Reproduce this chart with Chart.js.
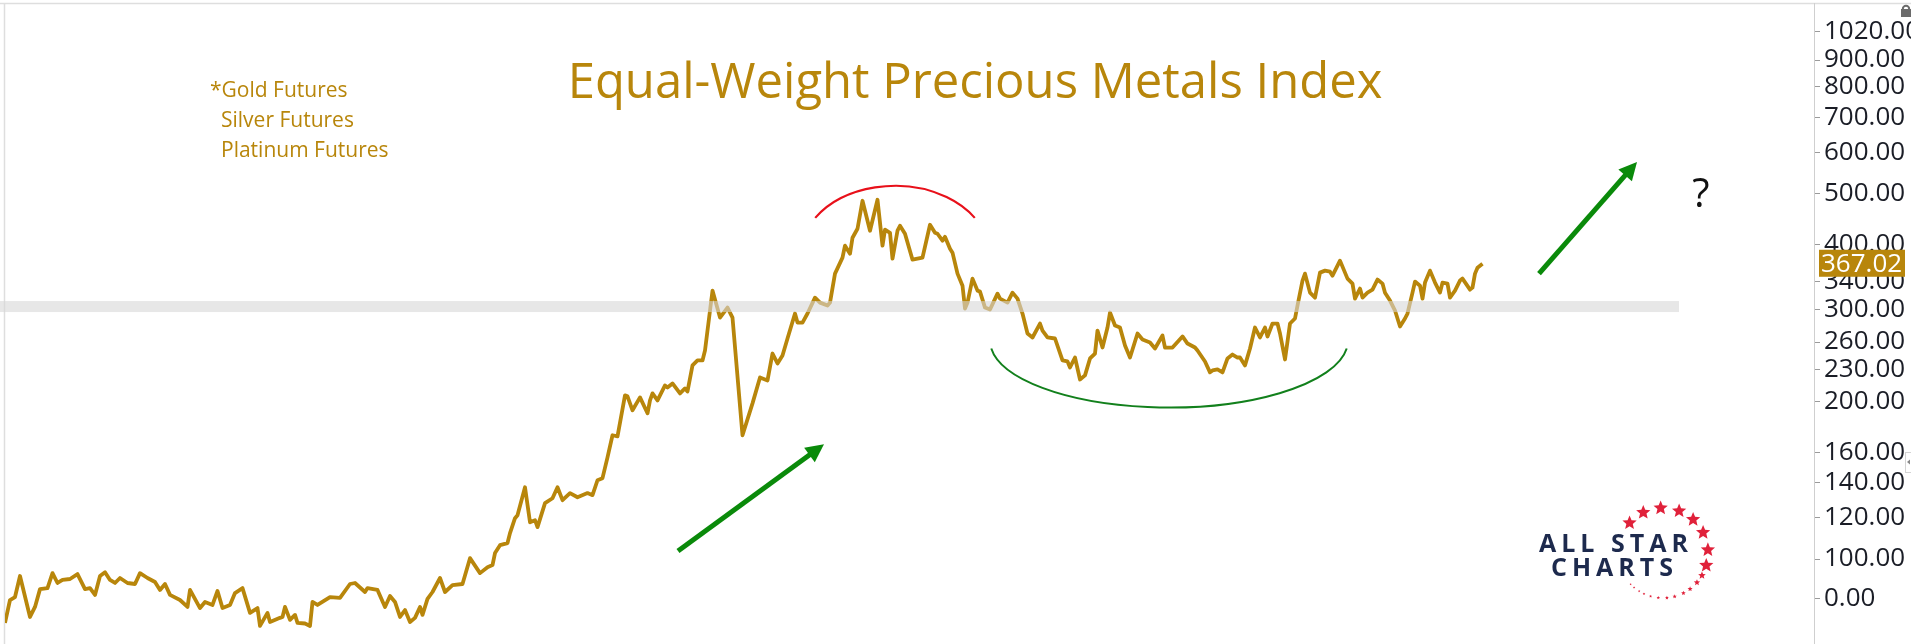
<!DOCTYPE html>
<html>
<head>
<meta charset="utf-8">
<script src="https://cdn.jsdelivr.net/npm/chart.js@4.4.1/dist/chart.umd.min.js"></script>
<style>
  html, body { margin: 0; padding: 0; background: #fff; overflow: hidden; }
  #wrap { width: 1911px; height: 644px; position: relative; }
</style>
</head>
<body>
<div id="wrap"><canvas id="pmChart" width="1911" height="644"></canvas></div>
<script>
// ── Data ──────────────────────────────────────────────────────
const periods = [0,2,4,6,10,12,14,17,19,21,23,26,29,32,34,36,38,40,42,44,46,49,52,54,57,60,62,64,66,70,73,74,78,80,83,85,87,90,92,95,98,101,102,105,106,110,111,112,114,116,117,120,122,123,125,130,134,138,140,144,145,149,152,154,156,158,160,162,164,166,167,169,171,174,176,179,183,186,190,193,195,196,198,201,202,204,205,208,210,212,213,216,219,221,223,226,229,233,235,237,239,241,243,245,248,249,251,254,257,258,259,261,264,265,267,270,272,273,275,277,279,280,283,286,289,291,295,299,302,305,307,309,311,313,316,317,319,321,324,326,329,330,332,335,336,338,339,341,343,346,349,351,352,354,355,357,358,360,363,367,370,372,373,375,376,378,379,381,383,384,385,387,389,390,392,394,397,398,401,403,405,407,409,411,414,415,417,420,423,425,426,428,430,432,434,436,437,439,441,442,444,446,448,450,453,455,458,460,463,464,467,471,473,476,477,480,482,483,485,487,489,491,493,494,496,498,500,502,504,505,507,509,510,512,514,516,517,519,520,522,524,526,528,530,531,534,536,537,539,540,542,543,545,547,549,551,552,554,556,558,560,561,563,564,566,567,568,570,572,574,575,577,578,580,582,583,586,587,588,589,591];

const indexValues = [75.5,83.5,84.6,92.8,77.5,81.0,87.6,88.0,94.0,90.0,91.2,91.6,93.6,87.6,88.0,85.4,92.8,94.4,91.2,90.0,92.0,90.0,89.6,94.0,92.0,90.4,87.3,89.6,85.4,83.5,81.0,87.3,80.6,82.8,81.7,86.9,80.6,81.7,86.1,88.0,78.9,80.6,74.5,78.9,75.8,77.2,77.5,81.0,76.5,78.2,75.5,75.3,74.5,82.8,81.7,84.6,84.3,89.6,90.0,86.5,88.0,87.3,81.0,85.0,82.8,77.5,79.9,75.8,77.2,81.0,78.2,83.9,86.5,92.0,86.5,89.2,89.6,100.4,94.0,96.5,97.4,102.7,106.3,107.3,112.1,119.7,121.3,137.2,117.6,118.7,115.1,127.9,130.7,137.2,129.6,133.7,131.3,133.7,132.5,141.5,142.8,156.5,172.5,171.7,205.6,204.7,192.5,203.8,190.0,201.1,207.4,201.1,214.8,212.9,216.7,207.4,212.0,209.2,234.6,239.8,239.8,250.5,326.1,289.6,302.6,289.6,172.5,198.5,222.5,219.6,247.2,236.6,245.1,264.1,294.8,283.3,283.3,294.8,316.2,309.3,305.3,309.3,351.4,377.0,397.4,383.7,411.6,428.2,484.3,424.5,486.4,397.4,426.4,420.7,375.3,424.5,433.9,418.9,373.7,377.0,435.8,420.7,418.9,406.2,413.4,392.2,385.4,351.4,333.3,301.3,309.3,343.8,326.1,324.7,302.6,300.0,321.8,314.8,309.3,323.2,314.8,294.8,270.0,265.3,282.1,273.5,265.3,264.1,239.8,238.7,232.5,242.9,220.5,224.5,241.9,247.2,273.5,253.8,277.2,296.1,279.6,277.2,256.1,242.9,270.0,263.0,259.5,252.7,267.6,253.8,253.8,266.5,258.3,253.8,250.5,238.7,227.5,229.5,230.5,227.5,241.9,246.1,242.9,242.9,234.6,252.7,277.2,265.3,277.2,266.5,282.1,282.1,270.0,240.8,282.1,288.4,305.3,340.8,351.4,323.2,316.2,353.0,356.1,354.5,348.3,372.1,353.0,343.8,336.3,314.8,329.0,316.2,323.2,327.5,342.3,336.3,323.2,312.1,298.7,278.4,288.4,294.8,323.2,339.3,333.3,314.8,337.8,356.1,337.8,323.2,337.8,336.3,316.2,326.1,340.8,343.8,327.5,330.4,351.4,360.8,367.02];

const tickValues = [1020, 900, 800, 700, 600, 500, 400, 340, 300, 260, 230, 200, 160, 140, 120, 100, 84];
const tickLabels = ['1020.00','900.00','800.00','700.00','600.00','500.00','400.00','340.00','300.00','260.00','230.00','200.00','160.00','140.00','120.00','100.00','0.00'];

const titleText   = 'Equal-Weight Precious Metals Index';
const legendLines = ['*Gold Futures', 'Silver Futures', 'Platinum Futures'];

// annotation anchors in data units (period, index value)
const supportLevel = 304;
const supportSpan  = [-2, 669.6];
const arrowUpLeft  = [[269.2, 103.6], [327.6, 165.7]];
const arrowUpRight = [[613.6, 351.4], [652.8, 574.8]];
const topArc       = { t: 356, v: 380, rx: 95, ry: 70 };
const baseArc      = { t: 465.6, v: 261.8, rx: 179, ry: 67 };
const questionAt   = [678.4, 495];

const GOLD = '#b8860b';

/* ── drawing helpers ─────────────────────────────── */

function drawArrow(ctx, x0, y0, x1, y1) {
  const ang = Math.atan2(y1 - y0, x1 - x0);
  const head = 18, half = 9;
  const bx = x1 - Math.cos(ang) * head, by = y1 - Math.sin(ang) * head;
  ctx.save();
  ctx.strokeStyle = '#0a8a0a';
  ctx.fillStyle   = '#0a8a0a';
  ctx.lineWidth   = 5;
  ctx.beginPath();
  ctx.moveTo(x0, y0);
  ctx.lineTo(bx + Math.cos(ang) * 2, by + Math.sin(ang) * 2);
  ctx.stroke();
  ctx.beginPath();
  ctx.moveTo(x1, y1);
  ctx.lineTo(bx + Math.sin(ang) * half, by - Math.cos(ang) * half);
  ctx.lineTo(bx - Math.sin(ang) * half, by + Math.cos(ang) * half);
  ctx.closePath();
  ctx.fill();
  ctx.restore();
}

function drawStar(ctx, cx, cy, r) {
  ctx.beginPath();
  for (let i = 0; i < 10; i++) {
    const rr = i % 2 === 0 ? r : r * 0.45;
    const a = -Math.PI / 2 + i * Math.PI / 5;
    ctx.lineTo(cx + Math.cos(a) * rr, cy + Math.sin(a) * rr);
  }
  ctx.closePath();
  ctx.fill();
}

function drawLogo(ctx) {
  ctx.save();
  ctx.fillStyle = '#1d2a4d';
  ctx.font = 'bold 25px "Open Sans"';
  ctx.letterSpacing = '5px';
  ctx.textBaseline = 'middle';
  ctx.textAlign = 'left';
  ctx.fillText('ALL STAR', 1539, 545);
  ctx.fillText('CHARTS', 1551, 569);
  ctx.restore();

  const cx = 1663, cy = 553, R = 45;
  const big   = [-138, -116, -93, -69, -48, -27, -4, 16];
  const small = [[30, 4], [41, 3.3], [53, 2.7], [63, 2.4], [75, 2.2], [85, 2], [96, 1.8], [106, 1.6], [115, 1.4], [122, 1.3], [130, 1.2], [136, 1.1]];
  ctx.save();
  ctx.fillStyle = '#e0213a';
  big.forEach(d => {
    const a = d * Math.PI / 180;
    drawStar(ctx, cx + Math.cos(a) * R, cy + Math.sin(a) * R, 7.5);
  });
  small.forEach(([d, r]) => {
    const a = d * Math.PI / 180;
    drawStar(ctx, cx + Math.cos(a) * R, cy + Math.sin(a) * R, r);
  });
  ctx.restore();
}

const overlayPlugin = {
  id: 'overlay',
  beforeDraw(chart) {
    const { ctx } = chart;
    ctx.save();
    ctx.strokeStyle = '#dedede';
    ctx.lineWidth = 1.5;
    ctx.beginPath();
    ctx.moveTo(0, 3.5); ctx.lineTo(1911, 3.5);
    ctx.moveTo(4.5, 3.5); ctx.lineTo(4.5, 644);
    ctx.stroke();
    ctx.restore();
  },
  afterDatasetsDraw(chart) {
    const { ctx, scales: { x, y } } = chart;

    // support band (drawn over the line)
    const by = y.getPixelForValue(supportLevel);
    const bx0 = x.getPixelForValue(supportSpan[0]);
    const bx1 = x.getPixelForValue(supportSpan[1]);
    ctx.save();
    ctx.fillStyle = 'rgba(215,215,215,0.6)';
    ctx.fillRect(bx0, by - 5.5, bx1 - bx0, 11);
    ctx.restore();

    // top arc (red)
    ctx.save();
    ctx.strokeStyle = '#e8101a';
    ctx.lineWidth = 2.2;
    ctx.beginPath();
    const a1 = Math.asin(38 / topArc.ry);
    ctx.ellipse(x.getPixelForValue(topArc.t), y.getPixelForValue(topArc.v), topArc.rx, topArc.ry, 0,
      Math.PI + a1, 2 * Math.PI - a1);
    ctx.stroke();
    ctx.restore();

    // base arc (green)
    ctx.save();
    ctx.strokeStyle = '#12801c';
    ctx.lineWidth = 2;
    ctx.beginPath();
    const a2 = Math.asin(8 / baseArc.ry);
    ctx.ellipse(x.getPixelForValue(baseArc.t), y.getPixelForValue(baseArc.v), baseArc.rx, baseArc.ry, 0,
      a2, Math.PI - a2);
    ctx.stroke();
    ctx.restore();

    // arrows
    [arrowUpLeft, arrowUpRight].forEach(([p0, p1]) => {
      drawArrow(ctx, x.getPixelForValue(p0[0]), y.getPixelForValue(p0[1]),
                     x.getPixelForValue(p1[0]), y.getPixelForValue(p1[1]));
    });

    // question mark
    ctx.save();
    ctx.fillStyle = '#111';
    ctx.font = '40px "Open Sans"';
    ctx.textAlign = 'center';
    ctx.textBaseline = 'middle';
    ctx.fillText('?', x.getPixelForValue(questionAt[0]), y.getPixelForValue(questionAt[1]));
    ctx.restore();
  },
  afterDraw(chart) {
    const { ctx, scales: { y } } = chart;

    // title + legend
    ctx.save();
    ctx.fillStyle = GOLD;
    ctx.font = '49px "Open Sans"';
    ctx.textAlign = 'center';
    ctx.textBaseline = 'alphabetic';
    ctx.fillText(titleText, 975, 98);
    ctx.font = '21px "Open Sans"';
    ctx.textAlign = 'left';
    ctx.textBaseline = 'middle';
    ctx.fillText(legendLines[0], 210, 91);
    ctx.fillText(legendLines[1], 221, 121);
    ctx.fillText(legendLines[2], 221, 151);
    ctx.restore();

    drawLogo(ctx);

    // last value badge
    const last = indexValues[indexValues.length - 1];
    const ly = y.getPixelForValue(last);
    ctx.save();
    ctx.fillStyle = GOLD;
    ctx.fillRect(1819, ly - 14, 86, 27);
    ctx.fillStyle = '#fff';
    ctx.font = '26px "Open Sans"';
    ctx.textAlign = 'left';
    ctx.textBaseline = 'middle';
    ctx.fillText(last.toFixed(2), 1821, ly + 1);
    ctx.restore();

    // lock icon + side tab
    ctx.save();
    ctx.fillStyle = '#6b6b6b';
    ctx.fillRect(1901, 9, 10, 8);
    ctx.strokeStyle = '#6b6b6b';
    ctx.lineWidth = 2;
    ctx.beginPath();
    ctx.arc(1906, 9, 3.2, Math.PI, 0);
    ctx.stroke();
    ctx.strokeStyle = '#d4d4d4';
    ctx.lineWidth = 1;
    ctx.strokeRect(1905.5, 452.5, 8, 20);
    ctx.fillStyle = '#888';
    ctx.beginPath();
    ctx.moveTo(1907, 462); ctx.lineTo(1910, 459.5); ctx.lineTo(1910, 464.5);
    ctx.closePath(); ctx.fill();
    ctx.restore();
  },
};

new Chart(document.getElementById('pmChart'), {
  type: 'line',
  plugins: [overlayPlugin],
  data: {
    datasets: [{
      label: 'Equal-Weight Precious Metals Index',
      data: periods.map((t, i) => ({ x: t, y: indexValues[i] })),
      borderColor: GOLD,
      borderWidth: 3.8,
      borderJoinStyle: 'round',
      pointRadius: 0,
      tension: 0,
      fill: false,
    }],
  },
  options: {
    responsive: false,
    animation: false,
    layout: { padding: { left: 5, top: 3, right: 0, bottom: 0 } },
    scales: {
      x: { type: 'linear', min: 0, max: 723.6, display: false },
      y: {
        type: 'logarithmic',
        position: 'right',
        min: 68.8,
        max: 1157,
        afterFit: s => { s.width = 97; s.paddingTop = 0; s.paddingBottom = 0; },
        afterBuildTicks: s => { s.ticks = tickValues.map(v => ({ value: v })); },
        ticks: {
          autoSkip: false,
          padding: 4,
          color: '#1a1d26',
          font: { family: 'Open Sans', size: 26 },
          callback: v => tickLabels[tickValues.indexOf(v)] ?? '',
        },
        grid: { drawOnChartArea: false, drawTicks: true, tickLength: 6, color: '#9a9a9a' },
        border: { display: true, color: '#cfcfcf' },
      },
    },
    plugins: {
      legend:  { display: false },
      tooltip: { enabled: false },
      title:   { display: false },
    },
  },
});
</script>
</body>
</html>
